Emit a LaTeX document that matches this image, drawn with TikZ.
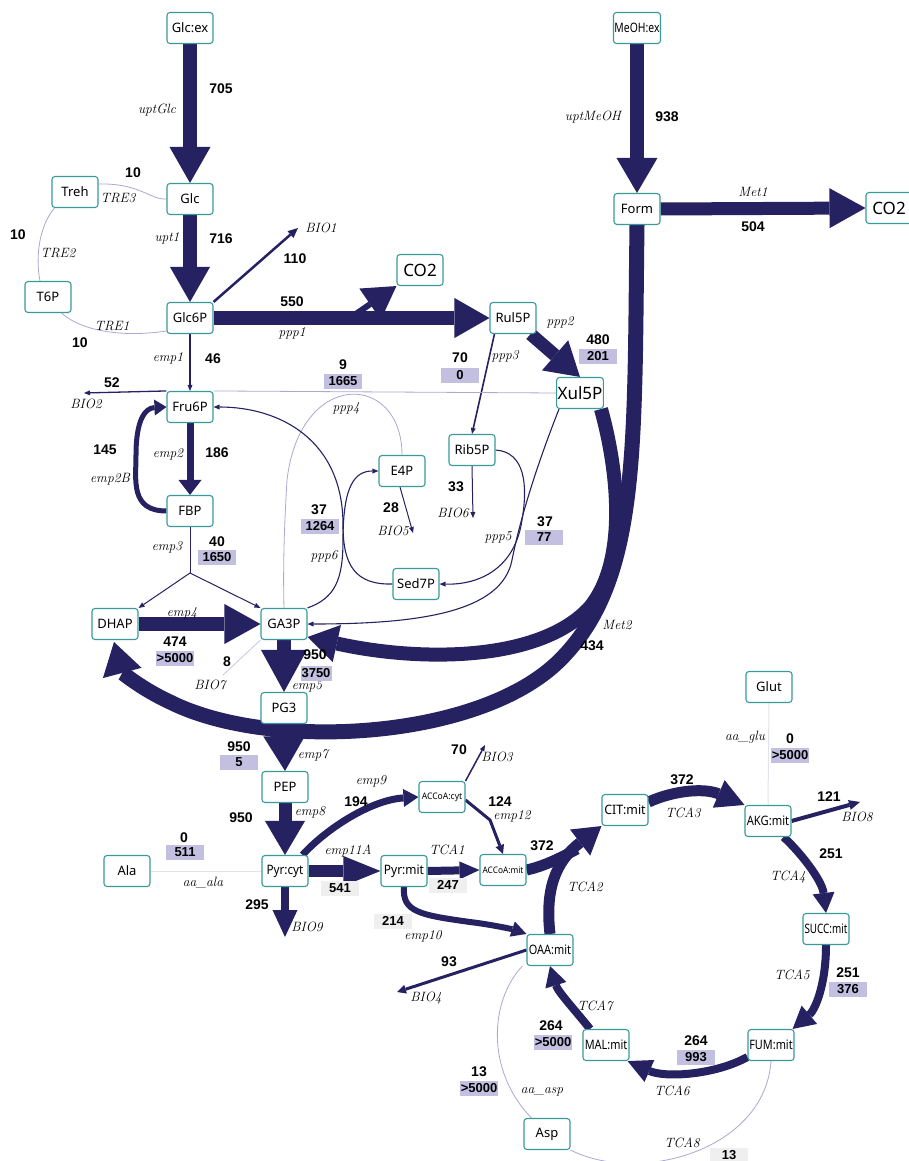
\documentclass[tikz,border=0pt]{standalone}
\usepackage{fontspec}
\usepackage{graphicx}
\newfontfamily\metf{Noto Sans}
\newfontfamily\numf{Liberation Sans}
\usetikzlibrary{arrows.meta}
\definecolor{nav}{HTML}{262262}
\definecolor{teal1}{HTML}{3A9A9A}
\definecolor{lav}{HTML}{ABA8D2}
\definecolor{lav2}{HTML}{C9C7E2}
\definecolor{bdg}{HTML}{C3BFE0}
\definecolor{gbdg}{HTML}{EFEFEF}
\definecolor{lgr}{HTML}{E2E2EA}
\newcommand\hsq[2]{\scalebox{#1}[1]{#2}}
\pgfdeclarelayer{bg}
\pgfsetlayers{bg,main}
\tikzset{
 met/.style={draw=teal1, line width=1.1pt, rounded corners=3pt, fill=white, minimum width=46pt, minimum height=31pt, inner sep=1pt, font=\metf\fontsize{13}{15}\selectfont},
 bigf/.style={font=\metf\fontsize{17}{19}\selectfont},
 smallf/.style={font=\metf\fontsize{9}{11}\selectfont},
 num/.style={font=\numf\bfseries\fontsize{14}{16}\selectfont, inner sep=0pt},
 bd/.style={fill=bdg, font=\numf\bfseries\fontsize{13}{15}\selectfont, minimum width=38pt, minimum height=15pt, inner sep=0pt},
 gbd/.style={bd, fill=gbdg},
 rl/.style={font=\itshape\fontsize{13.5}{15}\selectfont, inner sep=0pt},
 fl/.style={draw=nav, line width=#1},
 ah/.style 2 args={-{Triangle[length=#1,width=#2,line width=0pt]}},
 thn/.style={draw=nav, line width=1.3pt, -{Triangle[length=6pt,width=5pt,line width=0pt]}},
 faint/.style={draw=lav, line width=0.8pt},
 ghost/.style={draw=lgr, line width=1pt},
}
\begin{document}
\begin{tikzpicture}[x=1pt,y=-1pt]
\useasboundingbox (0,0) rectangle (909,1161);
% metabolites
\node[met] (glcex) at (190,28) {Glc:ex};
\node[met] (meohex) at (637,28) {\hsq{0.8}{MeOH:ex}};
\node[met] (glc) at (190,199) {Glc};
\node[met] (treh) at (75,192) {Treh};
\node[met] (t6p) at (48,297) {T6P};
\node[met] (g6p) at (190,318) {Glc6P};
\node[met,bigf] (co2a) at (420,270) {CO2};
\node[met] (rul) at (513,318) {Rul5P};
\node[met] (form) at (637,209) {Form};
\node[met,bigf] (co2b) at (889,208) {CO2};
\node[met,bigf] (xul) at (580,393) {Xul5P};
\node[met] (fru) at (190,407) {Fru6P};
\node[met] (rib) at (472,450) {Rib5P};
\node[met] (e4p) at (402,471) {E4P};
\node[met] (fbp) at (190,511) {FBP};
\node[met] (sed) at (416,584) {Sed7P};
\node[met] (dhap) at (115,624) {DHAP};
\node[met] (ga) at (284,624) {GA3P};
\node[met] (pg3) at (284,708) {PG3};
\node[met] (pep) at (285,787) {PEP};
\node[met] (ala) at (127,871) {Ala};
\node[met] (pyrc) at (285,871) {\hsq{0.9}{Pyr:cyt}};
\node[met] (pyrm) at (404,871) {\hsq{0.92}{Pyr:mit}};
\node[met,smallf] (acc) at (442,797) {\hsq{0.95}{ACCoA:cyt}};
\node[met,smallf] (acm) at (503,870) {\hsq{0.92}{ACCoA:mit}};
\node[met] (cit) at (625,810) {\hsq{0.95}{CIT:mit}};
\node[met] (akg) at (768,821) {\hsq{0.86}{AKG:mit}};
\node[met] (glut) at (769,687) {Glut};
\node[met] (succ) at (826,929) {\hsq{0.76}{SUCC:mit}};
\node[met] (oaa) at (550,950) {\hsq{0.84}{OAA:mit}};
\node[met] (mal) at (606,1045) {\hsq{0.84}{MAL:mit}};
\node[met] (fum) at (771,1045) {\hsq{0.84}{FUM:mit}};
\node[met] (asp) at (547,1134) {Asp};
% free ends
\coordinate (bio1) at (298,228);
\coordinate (bio2) at (84,393);
\coordinate (bio3) at (485,745);
\coordinate (bio4) at (397,992);
\coordinate (bio5) at (413,533);
\coordinate (bio6) at (473,518);
\coordinate (bio7) at (223,675);
\coordinate (bio8) at (860,802);
\coordinate (bio9) at (285,937);
\coordinate (pppbr) at (350,318);
\coordinate (emp3s) at (190,573);
\coordinate (emp12m) at (490,820);
\coordinate (tca2m) at (577,849);
\coordinate (met2d) at (114,642);
\begin{pgfonlayer}{bg}
\fill[white] (0,0) rectangle (909,1161);
% upper
\draw[fl=14pt, ah={36pt}{41pt}] (glcex.south) -- (glc.north);
\draw[fl=14pt, ah={35pt}{41pt}] (meohex.south) -- (form.north);
\draw[fl=13pt, ah={36pt}{40pt}] (form.east) -- (co2b.west);
\draw[fl=14pt, ah={35pt}{40pt}] (glc.south) -- (g6p.north);
\draw[faint] (glc.west) .. controls (150,200) and (140,183) .. ([yshift=8pt]treh.east);
\draw[faint] ([xshift=3pt]treh.south west) .. controls (40,225) and (35,255) .. ([xshift=-8pt]t6p.north);
\draw[faint] ([xshift=-10pt]t6p.south east) .. controls (80,330) and (120,338) .. ([yshift=-13pt]g6p.west);
\draw[fl=2.5pt, ah={10pt}{9pt}] (g6p.north east) -- (bio1);
\draw[fl=14pt, ah={35pt}{40pt}] (g6p.east) -- (rul.west);
\draw[fl=6pt, ah={32pt}{38pt}] (pppbr) -- (co2a.south west);
\draw[fl=13pt, ah={33pt}{40pt}] ([xshift=-6pt]rul.south east) -- (xul.north);
\draw[thn, line width=1.6pt] ([xshift=5pt]rul.south west) -- (rib.north);
% glycolysis upper
\draw[thn, line width=1.2pt] (g6p.south) -- (fru.north);
\draw[thn] (fru.north west) -- (bio2);
\draw[fl=7pt, ah={15pt}{23pt}] (fru.south) -- (fbp.north);
\draw[fl=5pt, ah={12pt}{16pt}] (fbp.west) .. controls (130,511) and (136,480) .. (136,455) .. controls (136,420) and (145,408) .. (fru.west);
\draw[draw=nav, line width=1pt] (fbp.south) -- (emp3s);
\draw[thn, line width=1pt] (emp3s) -- (dhap.north east);
\draw[thn, line width=1pt] (emp3s) -- (ga.north west);
% PPP
\draw[faint] (xul.west) -- (fru.north east);
\draw[faint] (e4p.north) .. controls (402,372) and (300,368) .. (287,480) .. controls (284,530) and (283,570) .. (ga.north);
\draw[thn, line width=1.1pt] (rib.east) .. controls (525,452) and (528,485) .. (522,520) .. controls (515,568) and (480,585) .. (sed.east);
\draw[thn, line width=1.1pt] ([xshift=3pt]xul.south west) .. controls (535,470) and (520,520) .. (512,560) .. controls (502,612) and (420,624) .. (ga.east);
\draw[thn, line width=1.1pt] (sed.west) .. controls (355,585) and (343,565) .. (343,525) .. controls (343,440) and (280,407) .. (fru.east);
\draw[thn, line width=1.1pt] (ga.north east) .. controls (335,598) and (343,580) .. (343,540) .. controls (343,485) and (355,471) .. (e4p.west);
\draw[thn, line width=1pt] ([xshift=-2pt]e4p.south) -- (bio5);
\draw[thn, line width=1pt] (rib.south) -- (bio6);
% lower glycolysis
\draw[fl=14pt, ah={36pt}{40pt}] (dhap.east) -- (ga.west);
\draw[draw=lav2, line width=0.8pt] (ga.south west) -- (bio7);
\draw[fl=14pt, ah={42pt}{46pt}] (ga.south) -- (pg3.north);
\draw[fl=14pt, ah={35pt}{42pt}] (pg3.south) -- (pep.north);
% Met2
\draw[fl=15pt, ah={32pt}{40pt}] (form.south) .. controls (634,450) and (640,580) .. (560,660) .. controls (480,740) and (270,752) .. (170,702) .. controls (140,688) and (122,672) .. (met2d);
\draw[fl=14pt, ah={30pt}{38pt}] ([xshift=-3pt]xul.south east) .. controls (618,470) and (628,560) .. (590,607) .. controls (540,662) and (420,662) .. ([yshift=-13pt]ga.east);
% pyruvate
\draw[fl=13pt, ah={34pt}{40pt}] (pep.south) -- (pyrc.north);
\draw[ghost] (ala.east) -- (pyrc.west);
\draw[fl=8pt, ah={27pt}{25pt}] (pyrc.south) -- (bio9);
\draw[fl=12pt, ah={37pt}{30pt}] (pyrc.east) -- (pyrm.west);
\draw[fl=7pt, ah={15pt}{18pt}] ([xshift=-6pt]pyrc.north east) .. controls (325,830) and (370,800) .. (acc.west);
\draw[thn, line width=1.5pt] (acc.north east) -- (bio3);
\draw[fl=3pt, ah={9pt}{9pt}] ([yshift=-3pt]acc.east) -- (emp12m) -- (acm.north);
\draw[fl=8pt, ah={20pt}{18pt}] (pyrm.east) -- (acm.west);
\draw[fl=6pt, ah={15pt}{16pt}] (pyrm.south) .. controls (402,912) and (420,915) .. (470,922) .. controls (495,925) and (515,930) .. (oaa.north west);
% TCA
\draw[fl=11pt] (acm.east) .. controls (545,866) and (562,857) .. (tca2m);
\draw[fl=11pt, ah={27pt}{33pt}] (oaa.north) .. controls (545,890) and (555,862) .. (cit.south west);
\draw[fl=11pt, ah={28pt}{30pt}] ([yshift=8pt]cit.east) .. controls (675,790) and (705,788) .. (akg.north west);
\draw[fl=4pt, ah={11pt}{10pt}] (akg.east) -- (bio8);
\draw[ghost] (glut.south) -- (akg.north);
\draw[fl=8pt, ah={20pt}{22pt}] ([xshift=-8pt]akg.south east) .. controls (800,852) and (822,880) .. (succ.north);
\draw[fl=8pt, ah={22pt}{24pt}] (succ.south) .. controls (826,985) and (815,1010) .. ([xshift=-2pt]fum.north east);
\draw[fl=8pt, ah={24pt}{24pt}] ([yshift=-12pt]fum.west) .. controls (715,1075) and (665,1078) .. ([xshift=-2pt]mal.south east);
\draw[fl=8pt, ah={20pt}{22pt}] ([xshift=-16pt]mal.north) .. controls (575,1010) and (558,992) .. (oaa.south);
\draw[fl=3pt, ah={9pt}{9pt}] (oaa.west) -- (bio4);
\draw[faint] ([xshift=-4pt]oaa.south west) .. controls (490,1000) and (485,1070) .. ([xshift=8pt]asp.north west);
\draw[faint] (fum.south) .. controls (765,1150) and (640,1185) .. (asp.south east);
\end{pgfonlayer}
% reaction names
\foreach \nm/\x/\y/\t in {r1/157/110/uptGlc, r2/593/117/uptMeOH, r3/753/192/Met1, r4/167/238/upt1,
 r5/118/198/TRE3, r6/58/253/TRE2, r7/112/326/TRE1, r8/321/228/BIO1, r9/292/333/ppp1,
 r10/560/322/ppp2, r11/505/356/ppp3, r12/346/408/ppp4, r13/168/358/emp1, r14/86/404/BIO2,
 r15/168/454/emp2, r16/110/479/emp2B, r17/167/547/emp3, r18/324/556/ppp6, r19/393/531/BIO5,
 r20/453/513/BIO6, r21/498/537/ppp5, r22/182/613/emp4, r23/210/685/BIO7, r24/307/686/emp5,
 r25/617/625/Met2, r26/313/755/emp7, r27/310/812/emp8, r28/371/781/emp9, r29/497/757/BIO3,
 r30/512/816/emp12, r31/348/851/emp11A, r32/447/850/TCA1, r33/203/883/aa\_ala, r34/307/927/BIO9,
 r35/423/936/emp10, r36/585/887/TCA2, r37/683/813/TCA3, r38/857/817/BIO8, r39/745/737/aa\_glu,
 r40/788/877/TCA4, r41/792/975/TCA5, r42/672/1091/TCA6, r43/595/1006/TCA7, r44/426/998/BIO4,
 r45/542/1092/aa\_asp, r46/682/1143/TCA8}
 \node[rl] (\nm) at (\x,\y) {\t};
% flux values
\foreach \nm/\x/\y/\t in {v1/221/89/705, v2/667/117/938, v3/753/227/504, v4/221/239/716,
 v5/133/173/10, v6/18/235/10, v7/80/343/10, v8/295/259/110, v9/292/302/550, v10/598/340/480,
 v11/460/358/70, v12/343/365/9, v13/213/359/46, v14/112/383/52, v15/105/450/145, v16/217/453/186,
 v17/217/542/40, v18/319/510/37, v19/391/508/28, v20/456/487/33, v21/545/522/37, v22/175/642/474,
 v23/227/662/8, v24/315/655/950, v25/592/646/434, v26/239/747/950, v27/241/818/950, v28/356/802/194,
 v29/459/750/70, v30/500/802/124, v31/184/838/0, v32/542/846/372, v33/257/905/295, v34/682/780/372,
 v35/829/797/121, v36/790/739/0, v37/831/854/251, v38/449/962/93, v39/848/973/251, v40/551/1026/264,
 v41/696/1041/264, v42/479/1072/13}
 \node[num] (\nm) at (\x,\y) {\t};
% badges
\foreach \nm/\x/\y/\t in {b1/598/356/201, b2/460/375/0, b3/343/381/1665, b4/217/557/1650,
 b5/320/526/1264, b6/544/537/77, b7/175/658/>5000, b9/239/762/5, b10/185/852/511,
 b11/790/755/>5000, b12/848/989/376, b13/553/1042/>5000, b14/696/1057/993, b15/479/1088/>5000}
 \node[bd] (\nm) at (\x,\y) {\t};
\node[bd, minimum width=31pt] (b8) at (316,673) {3750};
\foreach \nm/\x/\y/\t in {g1/340/888/541, g2/448/885/247, g3/393/921/214, g4/729/1155/13}
 \node[gbd] (\nm) at (\x,\y) {\t};
\end{tikzpicture}
\end{document}
